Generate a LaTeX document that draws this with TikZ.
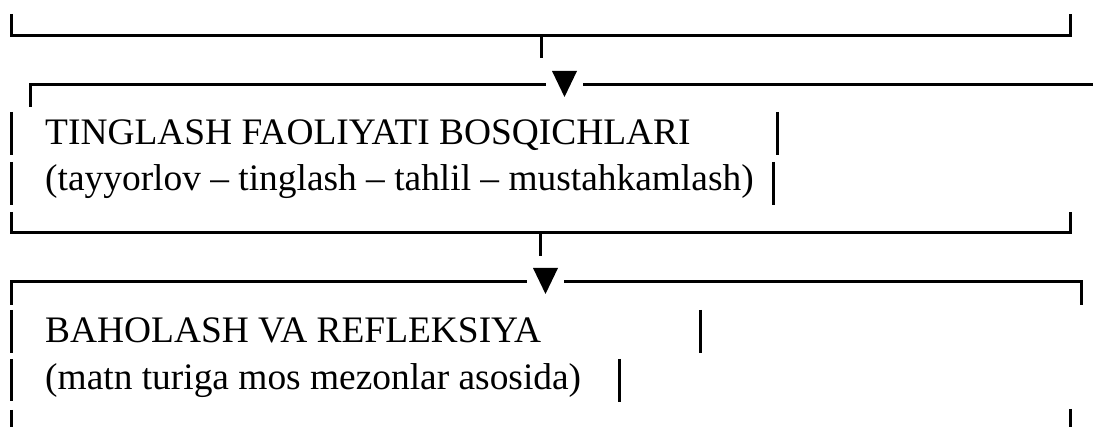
\documentclass[tikz,border=0pt]{standalone}
\usepackage{fontspec}
\setmainfont{Liberation Serif}
\begin{document}
\begin{tikzpicture}[x=1pt,y=-1pt,
  rule/.style={line width=3pt,line cap=butt},
  txt/.style={anchor=base west,inner sep=0pt,font=\fontsize{37.4}{40}\selectfont},
  tri/.style={fill=black,draw=none}]
\useasboundingbox (0,0) rectangle (1093,427);
% row 1
\draw[rule] (11,14) -- (11,36) -- (1070,36) -- (1070,14);
\draw[rule] (541,36) -- (541,58);
% row 2
\draw[rule] (30,107) -- (30,85) -- (546,85);
\draw[rule] (583,85) -- (1093,85);
\fill[tri] (552,71) -- (577,71) -- (564.5,97) -- cycle;
% bars
\draw[rule] (11,112) -- (11,155);
\draw[rule] (11,162) -- (11,205);
\draw[rule] (777,112) -- (777,155);
\draw[rule] (773,162) -- (773,205);
\node[txt] (t1) at (45,145) {TINGLASH FAOLIYATI BOSQICHLARI};
\node[txt] (t2) at (45,191) {(tayyorlov -- tinglash -- tahlil -- mustahkamlash)};
% row 3
\draw[rule] (11,212) -- (11,233) -- (1070,233) -- (1070,212);
\draw[rule] (540,233) -- (540,256);
% row 4
\draw[rule] (11,305) -- (11,282) -- (527,282);
\draw[rule] (564,282) -- (1081,282) -- (1081,305);
\fill[tri] (533,268) -- (558,268) -- (545.5,294) -- cycle;
\draw[rule] (11,310) -- (11,353);
\draw[rule] (11,359) -- (11,401);
\draw[rule] (11,410) -- (11,427);
\draw[rule] (1070,409) -- (1070,427);
\draw[rule] (700,310) -- (700,353);
\draw[rule] (619,359) -- (619,402);
\node[txt] (t3) at (45,343) {BAHOLASH VA REFLEKSIYA};
\node[txt] (t4) at (45,390) {(matn turiga mos mezonlar asosida)};
\end{tikzpicture}
\end{document}
